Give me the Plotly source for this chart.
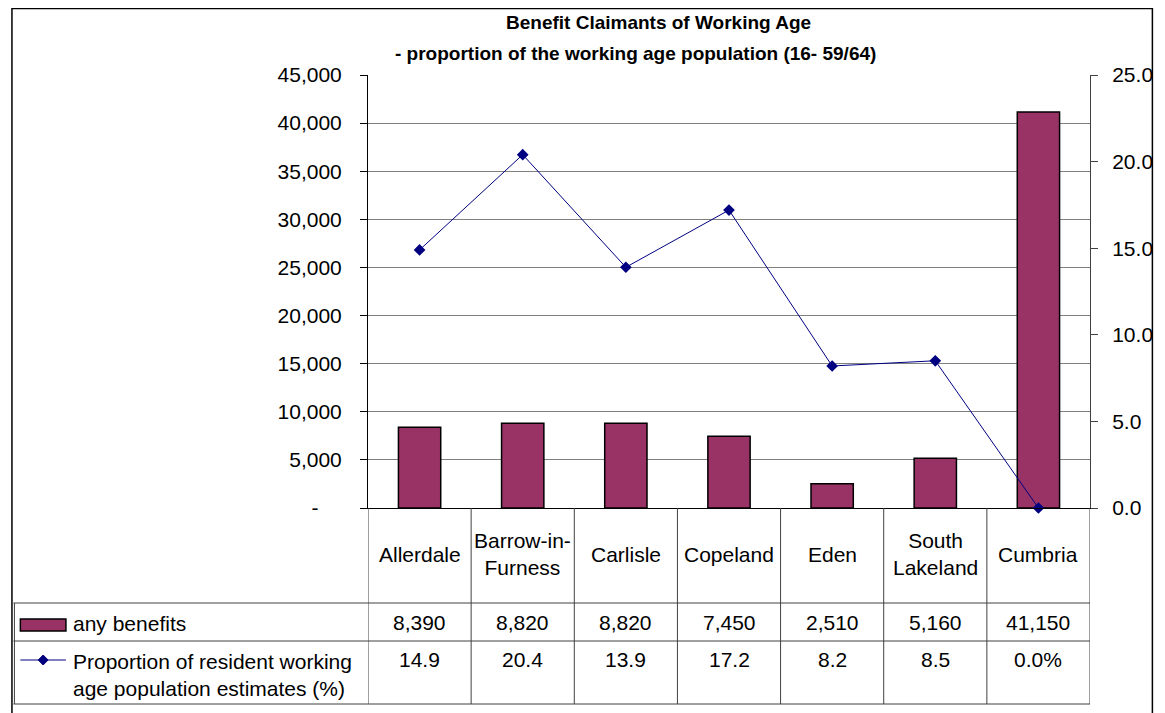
import plotly.graph_objects as go

# ---------------- data ----------------
categories = ["Allerdale", "Barrow-in-Furness", "Carlisle", "Copeland",
              "Eden", "South Lakeland", "Cumbria"]
category_labels = ["Allerdale", "Barrow-in-<br>Furness", "Carlisle", "Copeland",
                   "Eden", "South<br>Lakeland", "Cumbria"]
any_benefits = [8390, 8820, 8820, 7450, 2510, 5160, 41150]
proportion = [14.9, 20.4, 13.9, 17.2, 8.2, 8.5, 0.0]
proportion_labels = ["14.9", "20.4", "13.9", "17.2", "8.2", "8.5", "0.0%"]

left_tickvals = [0, 5000, 10000, 15000, 20000, 25000, 30000, 35000, 40000, 45000]
left_ticktext = ["-\u00a0\u00a0\u00a0\u00a0", "5,000", "10,000", "15,000", "20,000",
                 "25,000", "30,000", "35,000", "40,000", "45,000"]
right_tickvals = [0, 5, 10, 15, 20, 25]

series_names = ["any benefits",
                "Proportion of resident working<br>age population estimates (%)"]
title_lines = ["Benefit Claimants of Working Age",
               "- proportion of the working age population (16- 59/64)"]

# ---------------- layout helpers (reference pixel -> paper) ----------------
OFF = 8                      # page body margin of the browser
W, H = 1165 - OFF, 713 - OFF
L, R, T, B = 368, 1097, 75, 508   # plot area in window pixels


def px(x):
    return (x - L) / (R - L)


def py(y):
    return (B - y) / (B - T)


FONT = "Liberation Sans, Arial, sans-serif"
BAR_COLOR = "#993366"
LINE_COLOR = "#000080"
TABLE_LINE = "#404040"
FS = 21

fig = go.Figure()
fig.add_trace(go.Bar(
    x=categories, y=any_benefits, name=series_names[0],
    marker=dict(color=BAR_COLOR, line=dict(color="black", width=1.5)),
    yaxis="y",
))
fig.add_trace(go.Scatter(
    x=categories, y=proportion, name=series_names[1], yaxis="y2",
    mode="lines+markers", cliponaxis=False,
    line=dict(color=LINE_COLOR, width=1),
    marker=dict(symbol="diamond", size=9, color=LINE_COLOR),
))

shapes = []
annotations = []

# title
annotations.append(dict(text="<b>%s</b>" % title_lines[0], xref="paper", yref="paper",
                        x=px(661), y=py(23), showarrow=False,
                        font=dict(size=19, family=FONT, color="black"),
                        xanchor="center", yanchor="middle"))
annotations.append(dict(text="<b>%s</b>" % title_lines[1], xref="paper", yref="paper",
                        x=px(638), y=py(54), showarrow=False,
                        font=dict(size=19, family=FONT, color="black"),
                        xanchor="center", yanchor="middle"))

# data table: vertical lines at category boundaries
n = len(categories)
for i in range(n + 1):
    shapes.append(dict(type="line", xref="x", yref="paper",
                       x0=i - 0.5, x1=i - 0.5, y0=py(B), y1=py(704),
                       line=dict(color=TABLE_LINE, width=1)))
# horizontal table lines
for yy in (603, 641, 704):
    shapes.append(dict(type="line", xref="paper", yref="paper",
                       x0=px(10), x1=px(R), y0=py(yy), y1=py(yy),
                       line=dict(color=TABLE_LINE, width=1)))
# left edge of legend column
shapes.append(dict(type="line", xref="paper", yref="paper",
                   x0=px(11), x1=px(11), y0=py(603), y1=py(704),
                   line=dict(color=TABLE_LINE, width=1)))

# table cells
for i in range(n):
    annotations.append(dict(text=category_labels[i], xref="x", yref="paper",
                            x=categories[i], y=py(554), showarrow=False,
                            font=dict(size=FS, family=FONT, color="black"),
                            xanchor="center", yanchor="middle"))
    annotations.append(dict(text=f"{any_benefits[i]:,}", xref="x", yref="paper",
                            x=categories[i], y=py(622), showarrow=False,
                            font=dict(size=FS, family=FONT, color="black"),
                            xanchor="center", yanchor="middle"))
    annotations.append(dict(text=proportion_labels[i], xref="x", yref="paper",
                            x=categories[i], y=py(659), showarrow=False,
                            font=dict(size=FS, family=FONT, color="black"),
                            xanchor="center", yanchor="middle"))

# legend keys in table
shapes.append(dict(type="rect", xref="paper", yref="paper",
                   x0=px(17), x1=px(63), y0=py(631), y1=py(619),
                   fillcolor=BAR_COLOR, line=dict(color="black", width=1.5)))
annotations.append(dict(text=series_names[0], xref="paper", yref="paper",
                        x=px(68), y=py(623), showarrow=False,
                        font=dict(size=FS, family=FONT, color="black"),
                        xanchor="left", yanchor="middle"))
shapes.append(dict(type="line", xref="paper", yref="paper",
                   x0=px(17), x1=px(63), y0=py(660), y1=py(660),
                   line=dict(color=LINE_COLOR, width=1)))
d = 5
cx, cy = 40, 660
shapes.append(dict(type="path", xref="paper", yref="paper",
                   path=f"M {px(cx - d)} {py(cy)} L {px(cx)} {py(cy - d)} "
                        f"L {px(cx + d)} {py(cy)} L {px(cx)} {py(cy + d)} Z",
                   fillcolor=LINE_COLOR, line=dict(color=LINE_COLOR, width=1)))
annotations.append(dict(text=series_names[1], xref="paper", yref="paper",
                        x=px(68), y=py(675), showarrow=False, align="left",
                        font=dict(size=FS, family=FONT, color="black"),
                        xanchor="left", yanchor="middle"))

# outer chart border
shapes.append(dict(type="rect", xref="paper", yref="paper",
                   x0=px(8.5), x1=px(1160), y0=py(730), y1=py(8.5),
                   line=dict(color="black", width=1.5), fillcolor="rgba(0,0,0,0)"))

fig.update_layout(
    width=W, height=H, autosize=False,
    margin=dict(l=L - OFF, r=W - (R - OFF), t=T - OFF, b=H - (B - OFF), pad=0),
    paper_bgcolor="white", plot_bgcolor="white",
    showlegend=False,
    bargap=0.59,
    font=dict(family=FONT, size=FS, color="black"),
    xaxis=dict(type="category", range=[-0.5, n - 0.5], showticklabels=False,
               ticks="", showgrid=False, showline=True, linecolor="black",
               linewidth=1, zeroline=False, fixedrange=True),
    yaxis=dict(range=[0, 45000], tickvals=left_tickvals, ticktext=left_ticktext,
               showgrid=True, gridcolor="#808080", gridwidth=1,
               showline=True, linecolor="black", linewidth=1,
               ticks="outside", ticklen=7, tickcolor="black",
               ticklabelstandoff=14, zeroline=False,
               tickfont=dict(size=FS, family=FONT, color="black")),
    yaxis2=dict(range=[0, 25], tickvals=right_tickvals, tickformat=".1f",
                overlaying="y", side="right", showgrid=False,
                showline=True, linecolor="#404040", linewidth=1,
                ticks="outside", ticklen=7, tickcolor="#404040",
                ticklabelstandoff=10, zeroline=False,
                tickfont=dict(size=FS, family=FONT, color="black")),
    shapes=shapes,
    annotations=annotations,
)

fig.write_html("out.html")
